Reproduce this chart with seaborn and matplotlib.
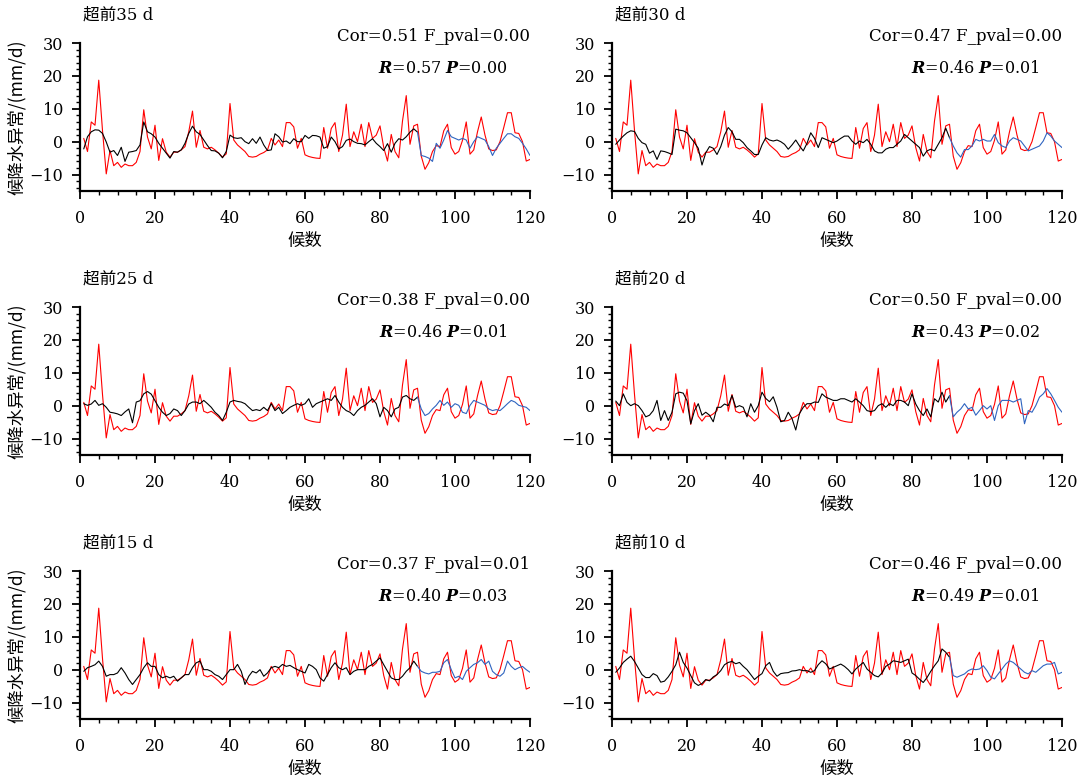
import numpy as np
import pandas as pd
import matplotlib
matplotlib.use('Agg')
import matplotlib.pyplot as plt
import seaborn as sns
from matplotlib.ticker import MultipleLocator

# ---------------- data ----------------
titles = ['超前35 d', '超前30 d', '超前25 d', '超前20 d', '超前15 d', '超前10 d']
cor_text = ['0.51', '0.47', '0.38', '0.50', '0.37', '0.46']
fpval_text = ['0.00', '0.00', '0.00', '0.00', '0.01', '0.00']
r_text = ['0.57', '0.46', '0.46', '0.43', '0.40', '0.49']
p_text = ['0.00', '0.01', '0.01', '0.02', '0.03', '0.01']

# observed pentad precipitation anomaly (x = 1..120)
obs = [1.0, -3.0, 6.0, 5.0, 18.7, 3.4, -9.8, -2.7, -7.3, -6.3,
       -7.8, -6.8, -7.3, -7.3, -6.3, -3.0, 9.7, 1.4, -2.2, 5.0,
       -5.7, 0.9, -3.2, -4.7, -3.2, -3.2, -2.5, -1.5, 3.0, 9.3,
       -1.7, 3.4, -1.7, -2.2, -1.7, -2.5, -3.5, -4.7, -3.7, 11.6,
       0.5, -1.0, -2.0, -3.0, -4.5, -4.7, -4.5, -3.8, -3.3, -2.5,
       1.0, -1.0, 0.5, -1.5, 5.8, 5.8, 4.5, -2.0, 1.0, -4.0,
       -4.5, -4.8, -5.0, -5.1, 4.3, -2.0, 4.0, 5.8, -3.0, 2.0,
       11.4, -1.5, 3.0, 0.0, 5.3, -1.5, 5.8, 1.0, 2.0, 4.8,
       -1.8, -5.9, 2.2, -3.0, -4.9, 6.3, 14.0, -0.8, 4.8, 5.3,
       -4.4, -8.4, -6.4, -3.0, -1.2, -1.5, 3.3, 5.3, -1.8, -3.8,
       -3.0, 0.4, 6.0, -3.8, -2.5, 3.0, 7.5, 2.0, -2.2, -2.7,
       -2.5, 0.0, 4.3, 8.8, 8.8, 2.7, 2.5, 0.0, -5.9, -5.4]

# fitted values (x = 1..90)
fit_35 = [-2.2, 1.5, 3.0, 3.6, 3.5, 2.5, -0.1, -3.2, -2.7, -4.2,
          -1.7, -6.0, -3.2, -3.0, -2.7, -1.0, 6.0, 3.0, 2.4, 1.4,
          -0.5, -2.0, -3.5, -5.0, -3.0, -3.2, -2.5, -0.5, 2.5, 4.7,
          3.0, 2.2, 0.5, -1.2, -2.7, -2.8, -3.5, -4.9, -3.0, 2.0,
          1.2, 1.0, 1.2, 0.0, -0.6, 0.9, -0.5, 1.4, -1.0, -2.7,
          -2.5, 2.4, 1.5, -0.1, 0.2, -0.6, 0.9, 0.0, 0.0, 1.9,
          1.0, 1.9, 1.8, 1.4, -2.0, -1.5, 1.4, 0.0, -2.2, -1.5,
          0.4, 0.8, 0.0, -0.5, -0.6, -1.0, 0.0, 0.9, -0.5, -1.5,
          -2.7, -0.6, -3.2, -0.5, 0.9, 0.5, 1.5, 2.9, 3.9, 2.9]
fit_30 = [-0.8, 0.5, 1.7, 2.7, 3.3, 3.1, 1.0, -0.3, -0.8, -3.5,
          -2.8, -5.4, -2.8, -3.0, -3.4, -3.9, 3.8, 3.5, 3.3, 2.7,
          1.2, -0.3, -2.0, -7.1, -3.4, -1.5, -2.0, -3.9, -1.5, 2.0,
          4.3, 3.0, 0.7, 0.7, -0.3, -1.8, -2.8, -3.9, -3.9, -1.0,
          1.2, 0.5, 0.2, 0.5, 0.0, -0.8, -2.3, -1.0, 0.5, -1.3,
          -2.8, -0.5, 2.7, 1.0, -1.8, 1.2, 0.7, 0.2, -0.3, 0.2,
          1.0, 1.7, 1.7, 0.2, -0.8, 0.2, -0.3, 0.7, -0.8, -2.8,
          -3.4, -3.4, -2.3, -1.8, -1.8, -0.8, 0.2, 2.2, 1.2, 0.2,
          -0.8, -1.8, -4.4, -2.8, -2.3, -2.8, -0.8, 1.2, 4.1, 1.2]
fit_25 = [0.6, 0.1, 0.5, 1.6, 0.1, 0.6, -0.5, -2.0, -2.2, -2.5,
          -3.0, -1.9, -1.0, -5.2, 1.1, 1.5, 3.6, 4.3, 3.5, 1.5,
          -0.5, -2.0, -3.0, -2.4, -1.0, -1.5, -3.0, -1.5, 0.5, 1.1,
          1.1, 0.6, 1.6, 0.6, -0.5, -2.0, -3.0, -4.5, -2.0, 1.1,
          1.6, 1.3, 1.1, 0.6, -0.5, -1.5, -1.2, -1.5, -0.5, -1.5,
          0.6, -1.5, -0.5, -2.4, -1.5, -0.5, 0.1, 0.6, 0.1, 0.6,
          2.1, -0.5, 0.6, 1.1, 1.6, 2.1, 1.6, 3.1, 1.1, -0.5,
          -1.5, -2.0, -3.0, -1.5, -0.5, 0.1, 1.1, 2.1, 0.6, -3.4,
          -0.5, -1.5, -3.4, -1.0, -0.5, 2.6, 3.1, 2.1, 1.6, 2.6]
fit_20 = [1.4, 0.0, 3.6, 1.0, 0.0, 0.6, 0.0, -1.5, -3.4, -2.9,
          -1.5, 1.6, -4.5, -1.5, -4.5, -2.0, 3.6, 4.1, 3.8, 1.5,
          -5.5, -1.5, 0.6, -2.9, -2.0, -2.9, -4.9, -0.5, -0.5, 0.5,
          0.0, 3.1, -0.5, 0.0, -0.5, -3.4, 0.6, -2.0, 0.0, 4.1,
          2.2, 1.2, 2.7, -0.5, -4.9, -4.5, -2.0, -3.9, -7.4, -2.4,
          -0.5, 0.6, 0.6, 1.1, 1.0, 3.6, 2.6, 2.1, 1.6, 1.6,
          2.1, 2.1, 1.6, 1.1, 2.1, 1.1, 0.0, -1.5, -1.8, -1.5,
          0.0, 0.6, -0.5, 0.6, 0.0, 1.6, 1.6, 1.1, 0.0, 3.6,
          0.5, -1.5, -3.0, -1.0, -3.4, 2.1, 1.1, 4.1, 1.1, 3.0]
fit_15 = [-0.5, 0.6, 1.0, 1.5, 2.6, 1.0, -2.0, -1.5, -1.5, -1.0,
          0.6, -1.0, -3.0, -4.5, -3.0, -1.5, 0.6, 2.1, 1.0, 1.0,
          -1.5, -2.5, -2.0, -2.5, -2.0, -3.5, -2.5, -1.5, -1.5, 0.6,
          2.1, 2.6, 0.0, 0.0, -0.5, -1.5, -2.0, -3.0, -1.5, 0.0,
          0.0, 1.6, -0.5, -4.5, -2.0, -0.5, -1.0, 0.0, -2.0, -1.0,
          0.6, 1.0, 0.6, 1.6, 1.0, 1.3, 0.6, 0.0, -0.5, -1.0,
          1.6, 1.0, 0.0, -2.5, -3.5, -1.5, 0.6, 2.1, 0.6, 0.0,
          0.6, -1.5, -0.5, 0.0, 0.0, 0.0, 1.0, 1.6, 2.6, 3.6,
          1.5, -0.5, -2.5, -3.0, -3.0, -2.0, -0.5, 0.6, 2.6, 1.0]
fit_10 = [-0.8, 0.5, 2.2, 3.2, 4.1, 2.5, 0.5, -1.5, -2.4, -2.4,
          -1.2, -1.8, -3.8, -3.5, -2.2, -0.5, 1.5, 5.3, 2.2, 0.5,
          -1.8, -4.0, -4.8, -4.2, -3.0, -3.4, -2.2, -1.5, -0.3, 1.5,
          2.2, 2.5, 1.8, 2.2, 1.0, 0.0, -1.5, -3.0, -2.0, -1.2,
          1.2, 2.2, -0.5, -2.0, -1.2, -1.0, -0.9, -0.4, -0.3, 0.0,
          -0.3, -0.3, -0.8, -0.3, 1.5, 2.7, 1.8, 0.2, 0.7, 1.2,
          1.7, 1.0, 0.0, -1.3, 0.2, 1.2, 2.2, 0.2, -0.8, -1.8,
          -2.2, -1.0, 1.0, 1.7, 2.7, 2.5, 2.2, 2.7, 3.2, -1.0,
          -1.8, -2.9, -3.9, -2.4, -0.5, 1.2, 2.7, 6.3, 5.3, 3.8]

# forecast values (x = 90..120)
pred_35 = [2.9, -4.2, -4.5, -5.0, -6.0, -0.5, -2.0, 0.5, 3.4, 1.5,
           1.0, 0.5, 1.0, 0.5, -2.0, 0.0, 1.5, 1.0, 0.5, -1.5,
           -4.2, -2.0, -0.5, 1.0, 2.4, 2.4, 1.5, 1.0, -0.5, -2.2, -4.2]
pred_30 = [1.2, -1.3, -3.4, -4.7, -2.4, -2.4, -1.3, 0.7, 0.2, 0.7,
           0.2, 0.2, 2.2, -0.3, -1.3, -1.8, 0.2, 1.2, 0.7, 0.2,
           -1.3, -2.8, -2.3, -1.8, -1.3, 0.2, 2.7, 1.7, 0.2, -0.8, -1.8]
pred_25 = [2.6, -1.0, -3.0, -2.4, -1.0, 0.1, 1.6, 0.1, 1.1, -0.5,
           0.6, 0.1, -2.0, -2.4, 0.1, 1.6, 1.1, 0.6, 0.1, -1.0,
           -1.5, -1.2, -1.5, -0.5, 0.6, 1.6, 1.1, 0.1, -0.2, -0.5, -1.5]
pred_20 = [3.0, -3.4, -2.0, -1.0, 0.6, -1.0, -0.5, -2.9, -1.5, 0.0,
           -1.0, 0.0, -4.5, 0.0, 1.6, 1.6, 1.6, 1.1, 1.6, 2.1,
           -5.5, -1.5, -2.0, 0.0, 2.6, 3.6, 5.2, 3.6, 1.6, -0.5, -2.0]
pred_15 = [1.0, -0.5, -1.0, -1.3, -0.8, -0.8, -0.5, 2.1, 3.1, 0.0,
           -2.5, -2.0, -3.0, -0.5, 0.6, 1.6, 2.1, 3.1, 1.6, 2.6,
           -0.5, -1.5, -2.0, -1.0, 2.6, 1.0, 0.0, 0.6, 1.0, 0.0, -0.8]
pred_10 = [3.8, -1.8, -2.3, -1.8, -1.3, -0.3, 0.2, 0.0, 0.2, 1.2,
           -0.3, -2.3, -2.8, -1.3, 0.2, 1.7, 2.7, 2.2, 1.2, 0.2,
           -0.8, -1.3, -0.3, -0.8, 0.2, 1.2, 1.7, 1.7, 2.2, -1.3, -0.8]

fits = [fit_35, fit_30, fit_25, fit_20, fit_15, fit_10]
preds = [pred_35, pred_30, pred_25, pred_20, pred_15, pred_10]

x_obs = list(range(1, 121))
x_fit = list(range(1, 91))
x_pred = list(range(90, 121))

# ---------------- style ----------------
sns.set_style('ticks')
plt.rcParams['font.family'] = ['DejaVu Serif', 'Noto Sans CJK SC']
plt.rcParams['text.color'] = 'black'
plt.rcParams['axes.labelcolor'] = 'black'
plt.rcParams['xtick.color'] = 'black'
plt.rcParams['ytick.color'] = 'black'
plt.rcParams['axes.edgecolor'] = 'black'
plt.rcParams['mathtext.fontset'] = 'custom'
plt.rcParams['mathtext.rm'] = 'DejaVu Serif'
plt.rcParams['mathtext.it'] = 'DejaVu Serif:italic'
plt.rcParams['mathtext.bf'] = 'DejaVu Serif:bold'
plt.rcParams['mathtext.bfit'] = 'DejaVu Serif:italic:bold'

W, H = 1080, 781
fig = plt.figure(figsize=(W / 100, H / 100), dpi=100)

lefts = [80, 612]
bottoms = [191, 455, 719]
aw, ah = 450, 148
cjk = ['Noto Sans CJK SC', 'DejaVu Sans']

for i in range(6):
    r, c = divmod(i, 2)
    ax = fig.add_axes([lefts[c] / W, 1 - bottoms[r] / H, aw / W, ah / H])
    d_obs = pd.DataFrame({'x': x_obs, 'y': obs})
    d_fit = pd.DataFrame({'x': x_fit, 'y': fits[i]})
    d_pred = pd.DataFrame({'x': x_pred, 'y': preds[i]})
    sns.lineplot(data=d_obs, x='x', y='y', color='#ff0000', lw=0.8, ax=ax, errorbar=None)
    sns.lineplot(data=d_fit, x='x', y='y', color='#000000', lw=0.8, ax=ax, errorbar=None)
    sns.lineplot(data=d_pred, x='x', y='y', color='#2f64c0', lw=0.8, ax=ax, errorbar=None)

    ax.set_xlim(0, 120)
    ax.set_ylim(-15, 30)
    sns.despine(ax=ax)
    for s in ['left', 'bottom']:
        ax.spines[s].set_linewidth(1.6)
        ax.spines[s].set_color('black')
    ax.xaxis.set_major_locator(MultipleLocator(20))
    ax.xaxis.set_minor_locator(MultipleLocator(5))
    ax.yaxis.set_major_locator(MultipleLocator(10))
    ax.yaxis.set_minor_locator(MultipleLocator(2))
    ax.tick_params(which='major', direction='out', length=6, width=1.3,
                   labelsize=11.5, colors='black')
    ax.tick_params(axis='x', which='major', pad=8)
    ax.tick_params(axis='y', which='major', pad=6)
    ax.tick_params(which='minor', direction='out', length=3, width=1.0, colors='black')
    ax.set_xlabel('候数', fontsize=12.5, family=cjk, labelpad=3, color='black')
    if c == 0:
        ax.set_ylabel('候降水异常/(mm/d)', fontsize=12.5, family=cjk, labelpad=3, color='black')
    else:
        ax.set_ylabel('')

    ax.text(0.006, 1.19, titles[i], transform=ax.transAxes, fontsize=12,
            ha='left', va='center', family=['DejaVu Serif', 'Noto Sans CJK SC'])
    ax.text(1.0, 1.047, f'Cor={cor_text[i]} F_pval={fpval_text[i]}',
            transform=ax.transAxes, fontsize=12, ha='right', va='center')
    ax.text(0.951, 0.83, r'$\mathbfit{R}$' + f'={r_text[i]} ' + r'$\mathbfit{P}$' + f'={p_text[i]}',
            transform=ax.transAxes, fontsize=11.5, ha='right', va='center')

fig.savefig('out.png', dpi=100)
